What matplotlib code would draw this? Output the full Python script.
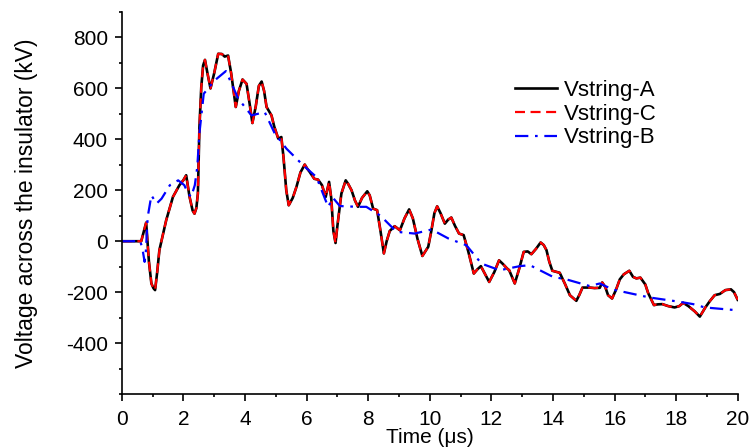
import matplotlib
matplotlib.use("Agg")
import matplotlib.pyplot as plt
from matplotlib.ticker import MultipleLocator

plt.rcParams['font.family'] = ['Liberation Sans', 'DejaVu Sans']
plt.rcParams['axes.unicode_minus'] = False

# Vstring-A / Vstring-C (nearly identical traces)
t_A = [0, 0.63, 0.79, 0.88, 0.96, 1.03, 1.08, 1.15, 1.22, 1.44, 1.66, 1.87, 2.00, 2.09,
       2.20, 2.30, 2.36, 2.42, 2.47, 2.52, 2.58, 2.64, 2.70, 2.78, 2.88, 3.00, 3.13, 3.25,
       3.34, 3.45, 3.55, 3.70, 3.80, 3.92, 4.05, 4.15, 4.24, 4.35, 4.45, 4.54, 4.62, 4.70,
       4.86, 4.95, 5.08, 5.18, 5.25, 5.34, 5.42, 5.55, 5.67, 5.80, 5.94, 6.02, 6.10, 6.25,
       6.37, 6.50, 6.62, 6.73, 6.80, 6.87, 6.94, 7.00, 7.13, 7.27, 7.35, 7.46, 7.57, 7.67,
       7.80, 7.97, 8.05, 8.16, 8.29, 8.40, 8.51, 8.60, 8.70, 8.86, 9.03, 9.18, 9.33, 9.45,
       9.60, 9.76, 9.95, 10.05, 10.15, 10.24, 10.35, 10.49, 10.60, 10.70, 10.82, 10.95,
       11.10, 11.25, 11.43, 11.55, 11.66, 11.80, 11.93, 12.10, 12.25, 12.38, 12.51, 12.58,
       12.76, 12.90, 13.05, 13.18, 13.30, 13.45, 13.60, 13.70, 13.79, 13.88, 13.98, 14.10,
       14.22, 14.40, 14.55, 14.76, 14.86, 14.96, 15.19, 15.35, 15.52, 15.60, 15.70, 15.79,
       15.92, 16.05, 16.17, 16.30, 16.48, 16.60, 16.71, 16.84, 17.00, 17.09, 17.28, 17.40,
       17.55, 17.75, 17.95, 18.10, 18.23, 18.40, 18.60, 18.77, 18.95, 19.09, 19.25, 19.42,
       19.60, 19.78, 19.88, 20.0]
v_A = [0, 0, 73, -80, -166, -185, -192, -120, -35, 82, 174, 220, 240, 259,
       174, 120, 108, 130, 187, 448, 605, 690, 712, 660, 600, 660, 736, 735,
       725, 729, 660, 527, 590, 635, 618, 540, 464, 530, 610, 627, 590, 527,
       494, 450, 403, 409, 330, 200, 141, 170, 213, 270, 301, 285, 272, 245,
       242, 220, 174, 233, 170, 40, -7, 60, 187, 239, 225, 200, 160, 135,
       170, 196, 180, 128, 122, 40, -48, 0, 40, 59, 43, 90, 125, 90,
       10, -58, -22, 40, 110, 137, 110, 69, 85, 93, 60, 30,
       24, -40, -127, -110, -98, -130, -160, -120, -75, -90, -107, -114,
       -166, -110, -42, -40, -51, -30, -5, -15, -35, -80, -116, -120,
       -124, -170, -212, -234, -210, -182, -182, -184, -183, -162, -180, -212,
       -225, -190, -150, -130, -116, -140, -146, -143, -170, -203, -251, -248,
       -247, -255, -260, -255, -242, -255, -275, -296, -260, -236, -212, -207,
       -192, -189, -200, -230]
v_C = v_A

# Vstring-B
t_B = [0, 0.60, 0.67, 0.74, 0.78, 0.84, 0.96, 1.13, 1.29, 1.56, 1.83, 2.03, 2.15, 2.25,
       2.37, 2.45, 2.52, 2.66, 3.01, 3.38, 3.78, 4.21, 4.64, 4.97, 5.35, 5.89, 6.32, 6.70,
       6.86, 7.08, 7.67, 7.94, 8.40, 8.92, 9.51, 10.06, 10.60, 11.19, 11.68, 12.27, 12.92,
       13.25, 14.00, 14.44, 15.19, 15.52, 15.95, 17.14, 18.12, 18.55, 18.93, 19.96, 20.0]
v_B = [0, 0, -30, -81, -40, 95, 180, 148, 167, 220, 239, 220, 187, 174,
       220, 291, 424, 579, 631, 668, 560, 494, 507, 422, 363, 298, 252, 135,
       170, 138, 135, 135, 100, 37, 30, 46, 11, -16, -88, -114, -98,
       -94, -140, -150, -176, -166, -190, -221, -238, -247, -260, -271, -272]

fig = plt.figure(figsize=(7.52, 4.48), dpi=100)
ax = fig.add_axes([0.162, 0.1205, 0.819, 0.8527])

ax.plot(t_A, v_A, color='black', lw=1.9, ls='-', label='Vstring-A')
ax.plot(t_A, v_C, color='red', lw=1.6, ls=(0, (4.5, 2.5)), label='Vstring-C')
ax.plot(t_B, v_B, color='blue', lw=1.6, ls=(0, (6, 3, 1.2, 3)), label='Vstring-B')

ax.set_xlim(0, 20)
ax.set_ylim(-600, 900)
ax.set_xticks(range(0, 21, 2))
ax.xaxis.set_minor_locator(MultipleLocator(1))
ax.set_yticks(range(-400, 801, 200))
ax.yaxis.set_minor_locator(MultipleLocator(100))

for s in ['top', 'right']:
    ax.spines[s].set_visible(False)
for s in ['left', 'bottom']:
    ax.spines[s].set_linewidth(1.2)

ax.tick_params(which='major', direction='out', length=5, width=1.2, labelsize=15)
ax.tick_params(axis='y', which='major', pad=5)
ax.tick_params(axis='x', which='major', pad=6.5)
ax.tick_params(which='minor', direction='out', length=2.5, width=1.2)

ax.set_xlabel('Time (μs)', fontsize=15, labelpad=-1)
ax.set_ylabel('Voltage across the insulator (kV)', fontsize=16.5, labelpad=20)

leg = ax.legend(loc='upper left', bbox_to_anchor=(0.638, 0.822), frameon=False,
                fontsize=16, handlelength=1.9, handletextpad=0.3,
                labelspacing=0.12, borderaxespad=0, borderpad=0)

fig.savefig('out.png', dpi=100)
